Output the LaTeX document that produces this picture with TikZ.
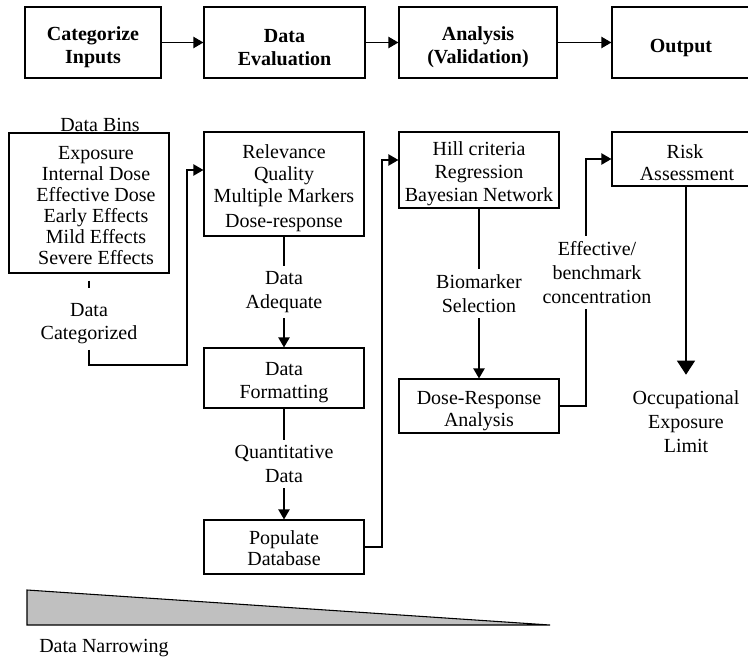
\documentclass[tikz,border=0pt]{standalone}
\usepackage{fontspec}
\setmainfont{Liberation Serif}
\usetikzlibrary{arrows.meta}
\definecolor{trigray}{HTML}{C0C0C0}
\newcommand{\tup}{\rule{0pt}{16.5pt}}
\newcommand{\tupb}{\rule{0pt}{18pt}}
\begin{document}
\begin{tikzpicture}[x=0.75pt,y=-0.75pt,
  box/.style={draw, line width=0.9pt, align=center, inner sep=0pt, font=\fontsize{15}{16.5}\selectfont},
  plainbox/.style={draw, line width=0.9pt, inner sep=0pt, font=\fontsize{15}{15.75}\selectfont},
  hbox/.style={box, minimum height=53.25pt, font=\fontsize{15}{17.25}\selectfont\bfseries},
  lab/.style={fill=white, align=center, inner xsep=1pt, inner ysep=4pt, font=\fontsize{15}{18}\selectfont},
  conn/.style={line width=0.9pt},
  arr/.style={conn, -{Triangle[length=7.5pt,width=8.5pt]}},
  bigarr/.style={conn, -{Triangle[length=10.5pt,width=13.5pt]}},
]
\useasboundingbox (0,0) rectangle (748,660);
\clip (0,0) rectangle (748,660);

% top row
\node[hbox, minimum width=102pt] (cat) at (93,42.5) {\tupb Categorize\\Inputs};
\node[hbox, minimum width=120.75pt] (eval) at (284.5,42.5) {\tupb Data\\Evaluation};
\node[hbox, minimum width=118.5pt] (anal) at (478,42.5) {\tupb Analysis\\(Validation)};
\node[hbox, minimum width=103.5pt] (out) at (681,42.5) {\tupb Output};
\draw[arr] (cat) -- (eval);
\draw[arr] (eval) -- (anal);
\draw[arr] (anal) -- (out);

% data bins
\node[font=\fontsize{15}{16}\selectfont, inner sep=0pt] (binslab) at (100,125) {Data Bins};
\node[plainbox, minimum width=120pt, minimum height=105pt] (bins) at (89,203)
  {\hspace*{10.5pt}\begin{tabular}{@{}c@{}}\rule{0pt}{18.5pt}Exposure\\Internal Dose\\Effective Dose\\Early Effects\\Mild Effects\\Severe Effects\end{tabular}};
\node[align=center, inner xsep=1pt, inner ysep=4pt, font=\fontsize{15}{17.25}\selectfont] (dcat) at (89,324) {Data\\Categorized};

% evaluation column
\node[box, minimum width=120pt, minimum height=78pt] (rel) at (284,184)
  {\tup Relevance\\Quality\\Multiple Markers\\[2pt]Dose-response};
\node[box, minimum width=120pt, minimum height=45pt, font=\fontsize{15}{17.25}\selectfont] (fmt) at (284,378) {\tup Data\\Formatting};
\node[box, minimum width=120pt, minimum height=40.5pt, font=\fontsize{15}{15.75}\selectfont] (pop) at (284,547) {\rule{0pt}{12.5pt}Populate\\Database};

% analysis column
\node[box, minimum width=120pt, minimum height=57pt, font=\fontsize{15}{17.25}\selectfont] (hill) at (479,170)
  {\tup Hill criteria\\Regression\\Bayesian Network};
\node[box, minimum width=120pt, minimum height=40.5pt] (dose) at (479,406) {\rule{0pt}{17.5pt}Dose-Response\\Analysis};

% output column
\node[box, minimum width=103.5pt, minimum height=40.5pt] (risk) at (681,159) {\tup\hspace*{6pt}Risk\\\hspace*{9pt}Assessment};
\node[align=center, inner xsep=1pt, inner ysep=12pt, font=\fontsize{15}{18}\selectfont] (occ) at (686,422)
  {Occupational\\Exposure\\Limit};

% connectors
\draw[conn] ([yshift=-5.25pt]bins.south) -- ++(0,7);
\draw[arr] (dcat.south) |- (187,365) |- (rel.west |- 0,170);
\draw[arr] (rel) -- node[lab] {Data\\Adequate} (fmt);
\draw[arr] (fmt) -- node[lab] {Quantitative\\Data} (pop);
\draw[arr] (pop.east) -| (382,160) -- (hill.west |- 0,160);
\draw[arr] (hill) -- node[lab] {Biomarker\\Selection} (dose);
\draw[arr] (dose.east) -| node[lab, pos=0.77, xshift=8.25pt] {Effective/\\benchmark\\concentration} (586,159) -- (risk.west);
\draw[bigarr] (risk.south -| occ.north) -- (occ.north);

% data narrowing wedge
\draw[line width=0.8pt, fill=trigray] (27,590) -- (550,625) -- (27,625) -- cycle;
\node[anchor=base west, inner sep=0pt, font=\fontsize{15}{16}\selectfont] (dn) at (39,652) {Data Narrowing};
\end{tikzpicture}
\end{document}
